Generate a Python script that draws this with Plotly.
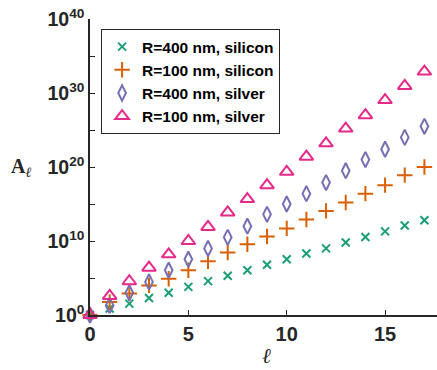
import plotly.graph_objects as go

ell = list(range(18))
# log10 of A_ell
si400 = [0, 0.87, 1.54, 2.3, 3.0, 3.8, 4.58, 5.3, 6.05, 6.8, 7.54, 8.3, 9.0, 9.8, 10.55, 11.3, 12.1, 12.8]
si100 = [0, 1.76, 2.9, 4.0, 4.9, 6.05, 7.27, 8.44, 9.57, 10.6, 11.7, 12.9, 14.07, 15.2, 16.4, 17.55, 18.9, 20.0]
ag400 = [0, 1.3, 3.0, 4.47, 6.05, 7.54, 9.0, 10.5, 12.0, 13.6, 15.0, 16.4, 17.9, 19.5, 21.0, 22.4, 24.0, 25.5]
ag100 = [0, 2.57, 4.56, 6.4, 8.2, 10.0, 11.9, 13.86, 15.66, 17.55, 19.35, 21.4, 23.2, 25.2, 27.0, 29.05, 30.95, 32.9]

names = ["R=400 nm, silicon", "R=100 nm, silicon", "R=400 nm, silver", "R=100 nm, silver"]
colors = ["#1b9e77", "#d95f02", "#7570b3", "#e7298a"]
symbols = ["x-thin", "cross-thin", "diamond-tall-open", "triangle-up-open"]
sizes = [8, 11, 11, 12]

xticks = [0, 5, 10, 15]
ytick_exp = [0, 10, 20, 30, 40]

fig = go.Figure()
for vals, nm, c, s, sz in zip([si400, si100, ag400, ag100], names, colors, symbols, sizes):
    fig.add_trace(go.Scatter(
        x=ell, y=[10.0 ** v for v in vals], mode="markers", name=nm,
        cliponaxis=False,
        marker=dict(symbol=s, size=sz, color=c, line=dict(color=c, width=2)),
    ))

tv, tt = [], []
for e in range(0, 41, 5):
    tv.append(10.0 ** e)
    tt.append("10<sup>%d</sup>" % e if e in ytick_exp else "")

axis_col = "#262626"
fig.update_layout(
    width=437, height=370,
    margin=dict(l=90, r=0, t=19, b=55),
    plot_bgcolor="white", paper_bgcolor="white",
    font=dict(family="Liberation Sans", color="#262626"),
    showlegend=True,
    legend=dict(x=0.032, y=0.966, xanchor="left", yanchor="top",
                bordercolor=axis_col, borderwidth=1, bgcolor="white",
                tracegroupgap=0,
                font=dict(size=15.5, family="Liberation Sans", weight="bold", color="#000000")),
    xaxis=dict(range=[0, 17.64], tickvals=xticks, ticktext=[str(v) for v in xticks],
               showline=True, linecolor=axis_col, linewidth=1.5, ticks="inside",
               ticklen=5, tickcolor=axis_col, showgrid=False, zeroline=False,
               automargin=False, ticklabeloverflow="allow",
               tickfont=dict(size=20, weight="bold")),
    yaxis=dict(type="log", range=[0, 40], tickvals=tv, ticktext=tt,
               showline=True, linecolor=axis_col, linewidth=1.5, ticks="inside",
               ticklen=5, tickcolor=axis_col, showgrid=False, zeroline=False,
               automargin=False, ticklabeloverflow="allow",
               tickfont=dict(size=19.5, weight="bold")),
)
fig.add_annotation(text="<b>A</b><sub><i>ℓ</i></sub>", xref="paper", yref="paper",
                   x=-0.165, y=0.5, xanchor="right", yanchor="middle", showarrow=False,
                   font=dict(family="Liberation Serif", size=20, color="#262626"))
fig.add_annotation(text="<i>ℓ</i>", xref="paper", yref="paper",
                   x=0.51, y=-0.14, xanchor="center", yanchor="middle", showarrow=False,
                   font=dict(family="DejaVu Serif", size=21, color="#262626"))

fig.write_html("out.html", config={"displayModeBar": False},
               post_script="document.body.style.margin='0';")
